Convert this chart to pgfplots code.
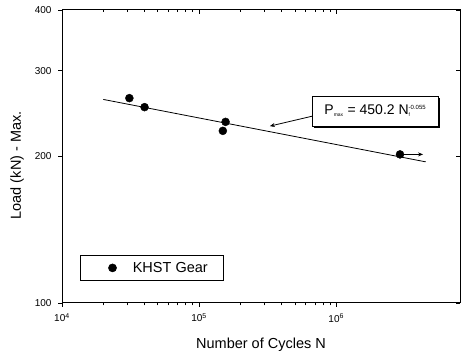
\documentclass[border=0pt]{standalone}
\usepackage{fontspec}
\setmainfont{Liberation Sans}
\usepackage{pgfplots}
\pgfplotsset{compat=1.18}
\usetikzlibrary{shadows,arrows.meta}
\begin{document}
\begin{tikzpicture}
\begin{axis}[
  xmode=log, ymode=log,
  scale only axis, width=398pt, height=293pt,
  xmin=1e4, xmax=8e6, ymin=100, ymax=400,
  xtick={1e4,1e5,1e6},
  xticklabels={10\textsuperscript{4},10\textsuperscript{5},10\textsuperscript{6}},
  ytick={100,200,300,400}, yticklabels={100,200,300,400},
  yminorticks=false,
  xtick pos=left, ytick pos=left,
  tick align=outside,
  major tick length=4pt, minor tick length=2.5pt,
  tick style={black, line width=0.8pt},
  axis line style={line width=1pt},
  ticklabel style={font=\fontsize{10}{12}\selectfont},
  xticklabel style={yshift=-3pt},
  yticklabel style={xshift=-3pt},
  xlabel={Number of Cycles N}, ylabel={Load (kN) - Max.},
  label style={font=\fontsize{14.5}{16}\selectfont},
  xlabel style={at={(axis description cs:0.5,-0.143)}, anchor=center},
  ylabel style={at={(axis description cs:-0.113,0.47)}, anchor=center},
  legend style={at={(0.045,0.075)}, anchor=south west, draw=black, line width=0.6pt,
    font=\fontsize{14.5}{16}\selectfont, inner xsep=14pt, inner ysep=5pt},
  legend image code/.code={\path (0pt,0pt) (36pt,0pt); \draw[mark=*, mark size=4pt, mark options={fill=black}] plot coordinates {(18pt,0pt)};},
]
\addplot[only marks, mark=*, mark size=4pt, black] coordinates {
  (3.1e4,263.6) (4.0e4,252.6) (1.56e5,235.6) (1.49e5,225.8) (2.92e6,202)
};
\addlegendentry{KHST Gear}
\addplot[black, line width=0.8pt, forget plot] coordinates {(2e4,262) (4.5e6,195)};
\addplot[black, line width=0.8pt, -{Stealth[length=5pt,width=4pt]}, forget plot] coordinates {(2.92e6,202) (4.3e6,202)};
\draw[line width=0.8pt, -{Stealth[length=5pt,width=4pt]}] (axis cs:6.67e5,242) -- (axis cs:3.28e5,230.9);
\node[draw, fill=white, line width=0.8pt,
  drop shadow={shadow xshift=1.5pt, shadow yshift=-1.5pt, opacity=1, fill=black},
  font=\fontsize{14}{16}\selectfont, minimum width=126pt, minimum height=30pt, inner sep=2pt]
  at (axis cs:1.93e6,248)
  {P\textsubscript{\fontsize{5}{5}\selectfont max} = 450.2 N\rlap{\textsubscript{\fontsize{5}{5}\selectfont f}}\textsuperscript{\fontsize{6}{6}\selectfont -0.055}};
\end{axis}
\begin{axis}[
  xmode=log, ymode=log,
  scale only axis, width=398pt, height=293pt,
  xmin=1e4, xmax=8e6, ymin=100, ymax=400,
  xtick={1e4,1e5,1e6}, xticklabels={},
  ytick={100,200,300,400}, yticklabels={},
  yminorticks=false,
  xtick pos=right, ytick pos=right,
  tick align=inside,
  major tick length=4pt, minor tick length=2.5pt,
  tick style={black, line width=0.8pt},
  axis line style={line width=1pt},
]
\end{axis}
\pgfresetboundingbox
\path[use as bounding box] (-62pt,-54pt) rectangle (403pt,303pt);
\end{tikzpicture}
\end{document}
